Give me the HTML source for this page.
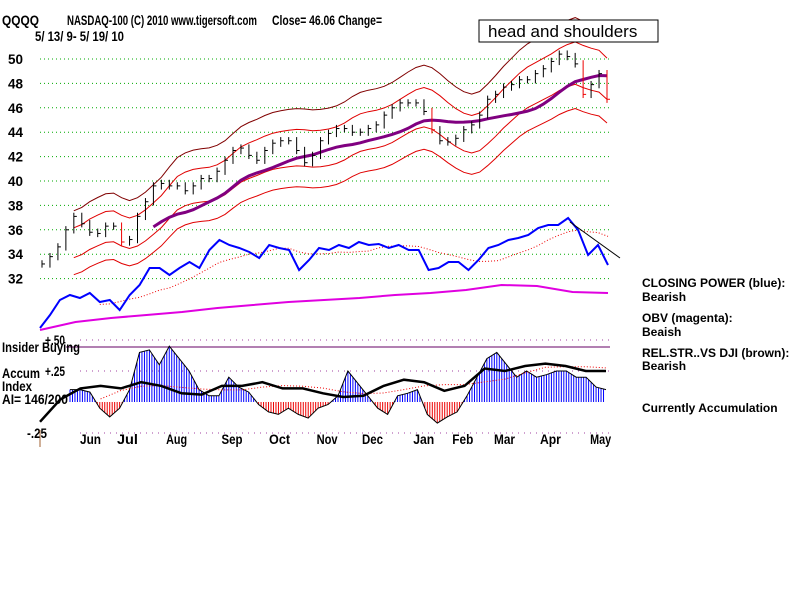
<!DOCTYPE html>
<html><head><meta charset="utf-8">
<style>
body{margin:0;background:#fff;}
svg{display:block;font-family:"Liberation Sans",Arial,sans-serif;}
.t{font-size:12px;font-weight:bold;fill:#000;}
.h{font-size:14px;font-weight:bold;fill:#000;}
</style></head>
<body>
<svg id="c" width="800" height="600" viewBox="0 0 800 600">
<text class="h" x="2" y="25" textLength="37" lengthAdjust="spacingAndGlyphs">QQQQ</text>
<text class="h" x="67" y="25" textLength="190" lengthAdjust="spacingAndGlyphs">NASDAQ-100  (C) 2010 www.tigersoft.com</text>
<text class="h" x="272" y="25" textLength="110" lengthAdjust="spacingAndGlyphs">Close=  46.06  Change=</text>
<text class="h" x="35" y="41" textLength="89" lengthAdjust="spacingAndGlyphs">5/ 13/ 9- 5/ 19/ 10</text>
<g id="grid"></g>
<g id="price"></g>
<g id="lower"></g>
<rect x="479" y="20" width="179" height="22" fill="#fff" stroke="#000"/>
<text x="488" y="37" font-size="17" fill="#000">head and shoulders</text>
<text class="h" x="2" y="352" textLength="78" lengthAdjust="spacingAndGlyphs">Insider Buying</text>
<text class="h" x="2" y="378" textLength="38" lengthAdjust="spacingAndGlyphs">Accum</text>
<text class="h" x="2" y="391" textLength="30" lengthAdjust="spacingAndGlyphs">Index</text>
<text class="h" x="2" y="404" textLength="66" lengthAdjust="spacingAndGlyphs">AI= 146/200</text>
<text class="t" x="642" y="287">CLOSING POWER (blue):</text>
<text class="t" x="642" y="301">Bearish</text>
<text class="t" x="642" y="322">OBV (magenta):</text>
<text class="t" x="642" y="336">Beaish</text>
<text class="t" x="642" y="357">REL.STR..VS DJI (brown):</text>
<text class="t" x="642" y="370">Bearish</text>
<text class="t" x="642" y="412">Currently Accumulation</text>
</svg>
<script>
const priceTicks=[50,48,46,44,42,40,38,36,34,32];
const months=["Jun","Jul","Aug","Sep","Oct","Nov","Dec","Jan","Feb","Mar","Apr","May"];
const monthIdx=[7.2,14.2,23.5,34,43,52,60.6,70.3,77.7,85.6,94.3,103.8];
const closes=[33.2,33.8,34.6,36.0,37.1,36.5,35.8,35.7,36.3,36.3,35.0,35.2,37.1,38.3,39.6,39.8,39.6,39.6,39.2,39.6,40.2,40.2,40.8,41.7,42.5,42.7,42.1,41.7,42.5,43.1,43.3,43.3,42.5,41.5,42.1,43.3,43.9,44.3,44.3,44.0,44.0,44.3,44.6,45.4,46.0,46.4,46.4,46.4,45.7,44.2,43.3,43.2,43.5,44.2,44.6,45.4,46.7,47.1,47.7,47.9,48.3,48.3,48.8,49.2,49.8,50.4,50.2,49.6,47.1,47.9,48.8,46.7];
const cpValues=[72,85,100,105,102,107,98,100,90,105,115,132,132,125,132,138,132,150,160,155,152,148,142,155,152,150,130,140,152,150,155,152,158,155,156,152,155,150,150,130,132,138,138,130,140,152,155,160,162,165,172,175,175,182,170,145,155,135];
const obvValues=[70,78,82,85,88,92,95,98,100,102,105,107,110,115,114,108,107];
const aiValues=[0.1,0.1,0.08,-0.05,-0.12,-0.05,0.1,0.4,0.42,0.3,0.45,0.35,0.25,0.1,0.05,0.05,0.2,0.12,0.08,-0.02,-0.08,-0.1,-0.05,-0.1,-0.13,-0.05,-0.02,0.05,0.25,0.15,0.05,-0.05,-0.1,0.05,0.07,0.1,-0.1,-0.17,-0.12,-0.08,0.05,0.2,0.35,0.4,0.3,0.2,0.25,0.2,0.22,0.25,0.25,0.2,0.2,0.12,0.1];
const rsValues=[-0.16,0.02,0.11,0.13,0.11,0.16,0.13,0.07,0.06,0.13,0.13,0.16,0.11,0.11,0.07,0.04,0.05,0.13,0.18,0.16,0.09,0.13,0.27,0.25,0.29,0.31,0.29,0.25,0.25];

const NS="http://www.w3.org/2000/svg";
function mk(tag,attrs,parent){const e=document.createElementNS(NS,tag);for(const k in attrs)e.setAttribute(k,attrs[k]);parent.appendChild(e);return e;}
const X0=42,X1=607;
const N=108;
const xi=i=>X0+(X1-X0)*i/(N-1);
const py=v=>59+(50-v)*12.2;
const ay=v=>402-v*124;
const grid=document.getElementById('grid'),price=document.getElementById('price'),lower=document.getElementById('lower');
priceTicks.forEach(v=>{
  const l=mk('line',{x1:40,x2:610,y1:py(v),y2:py(v),stroke:'#0a0',"stroke-dasharray":'1,3'},grid);
  
  
  const t=mk('text',{x:8,y:py(v)+5,class:'h',textLength:15,lengthAdjust:'spacingAndGlyphs'},grid);t.textContent=v;
  
  
});
[[0.5,'+.50'],[0.25,'+.25'],[-0.25,'-.25']].forEach(([v,s])=>{
  const l=mk('line',{x1:80,x2:610,y1:ay(v),y2:ay(v),stroke:'#a040a0',"stroke-dasharray":'1,5'},grid);
  
  
  const t=mk('text',{x:v<0?27:45,y:ay(v)+5,class:'h',textLength:20,lengthAdjust:'spacingAndGlyphs'},grid);t.textContent=s;
  
  
});
const ins=mk('line',{x1:66,x2:610,y1:347,y2:347,stroke:'#606'},grid);


months.forEach((m,i)=>{
  const t=mk('text',{x:xi(monthIdx[i]),y:444,class:'h',textLength:21,lengthAdjust:'spacingAndGlyphs'},grid);t.textContent=m;
  
  
});
const px=i=>X0+(X1-X0)*i/(closes.length-1);
function path(pts){return pts.map((p,i)=>(i?'L':'M')+p[0].toFixed(1)+' '+p[1].toFixed(1)).join(' ');}
function ma(arr,w){return arr.map((v,i)=>{const s=arr.slice(Math.max(0,i-w+1),i+1);return s.reduce((a,b)=>a+b,0)/s.length;});}
const m=ma(closes,6);
const m2=ma(closes,14);
const seg=(arr,k,start)=>arr.map((v,i)=>[px(i),py(v*k)]).slice(start);
[[1.075,'#800000'],[0.925,'#e00000'],[1.035,'#e00000'],[0.965,'#e00000']].forEach(([k,c])=>{
  const p=mk('path',{d:path(seg(m,k,4)),fill:'none',stroke:c,"stroke-width":1},price);
  
  
});
const mp=mk('path',{d:path(seg(m2,1,14)),fill:'none',stroke:'#800080',"stroke-width":3},price);


closes.forEach((c,i)=>{
  const prev=i?closes[i-1]:c,hi=Math.max(c,prev)+0.3,lo=Math.min(c,prev)-0.3;
  const col=c<prev-1?'#e00':'#000';
  const b=mk('line',{x1:px(i),x2:px(i),y1:py(hi),y2:py(lo),stroke:col},price);
  
  
  const t=mk('line',{x1:px(i),x2:px(i)+3,y1:py(c),y2:py(c),stroke:col},price);
  
  
});
const cpy=v=>400-v;
const cx=i=>40+(608-40)*i/(cpValues.length-1);
const cpPts=cpValues.map((v,i)=>[cx(i),cpy(v)]);
const cpMa=ma(cpValues,8).map((v,i)=>[cx(i),cpy(v)]).slice(6);
const cpm=mk('path',{d:path(cpMa),fill:'none',stroke:'#e00',"stroke-dasharray":'1,2'},lower);


const cp=mk('path',{d:path(cpPts),fill:'none',stroke:'#0000ff',"stroke-width":2},lower);


const tl=mk('line',{x1:570,y1:222,x2:620,y2:258,stroke:'#000'},lower);


const ox=i=>40+(608-40)*i/(obvValues.length-1);
const obv=mk('path',{d:path(obvValues.map((v,i)=>[ox(i),cpy(v)])),fill:'none',stroke:'#e000e0',"stroke-width":2},lower);


const ax=i=>70+(606-70)*i/(aiValues.length-1);
for(let i=0;i<aiValues.length-1;i++){
  for(let s=0;s<4;s++){
    const f=s/4,v=aiValues[i]*(1-f)+aiValues[i+1]*f,x=ax(i)+(ax(i+1)-ax(i))*f;
    const b=mk('line',{x1:x,x2:x,y1:ay(0),y2:ay(v),stroke:v>=0?'#0000ff':'#e00'},lower);
    
    
  }
}
const aiPts=aiValues.map((v,i)=>[ax(i),ay(v)]);
const aiL=mk('path',{d:path(aiPts),fill:'none',stroke:'#000',"stroke-width":1},lower);


const rx=i=>40+(606-40)*i/(rsValues.length-1);
const rsMa=ma(rsValues,4).map((v,i)=>[rx(i),ay(v)]).slice(3);
const rsm=mk('path',{d:path(rsMa),fill:'none',stroke:'#e00',"stroke-dasharray":'1,2'},lower);


const rs=mk('path',{d:path(rsValues.map((v,i)=>[rx(i),ay(v)])),fill:'none',stroke:'#000',"stroke-width":2.5},lower);


const tk=mk('line',{x1:40,x2:40,y1:430,y2:447,stroke:'#a06030'},lower);


</script>
</body></html>
